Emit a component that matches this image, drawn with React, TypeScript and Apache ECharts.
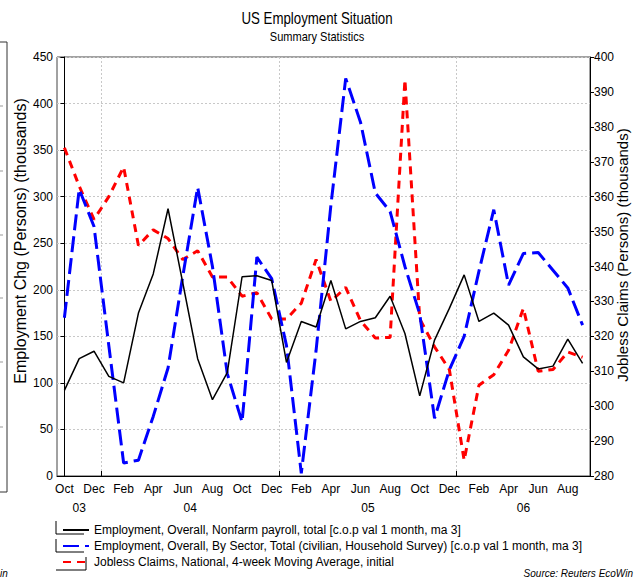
import React, { useEffect, useRef } from 'react';
import * as echarts from 'echarts';

const categories = [
  '2003-10', '2003-11', '2003-12',
  '2004-01', '2004-02', '2004-03', '2004-04', '2004-05', '2004-06', '2004-07', '2004-08', '2004-09', '2004-10', '2004-11', '2004-12',
  '2005-01', '2005-02', '2005-03', '2005-04', '2005-05', '2005-06', '2005-07', '2005-08', '2005-09', '2005-10', '2005-11', '2005-12',
  '2006-01', '2006-02', '2006-03', '2006-04', '2006-05', '2006-06', '2006-07', '2006-08', '2006-09',
];
const monthNames = ['Jan', 'Feb', 'Mar', 'Apr', 'May', 'Jun', 'Jul', 'Aug', 'Sep', 'Oct', 'Nov', 'Dec'];

const nonfarmPayroll = [
  92, 126, 134,
  107, 100, 175, 217, 287, 207, 126, 82, 111, 214, 215, 210,
  122, 166, 160, 210, 158, 166, 170, 193, 153, 86, 146, 180,
  216, 166, 175, 162, 128, 115, 118, 147, 121,
];
const householdSurvey = [
  170, 308, 268,
  140, 14, 17, 64, 116, 215, 310, 225, 110, 58, 235, 212,
  140, 3, 135, 291, 427, 380, 304, 284, 225, 174, 62, 114,
  150, 220, 286, 205, 239, 240, 221, 202, 162,
];
const joblessClaims = [
  374, 363, 353.5,
  360, 368.5, 346, 350.5, 348, 342, 344.5, 337, 337, 331.5, 332.5, 325,
  325, 329.5, 342, 330, 334, 324.5, 319.5, 319.7, 393.5, 325, 317, 310.5,
  284.5, 306, 309, 316, 328, 310, 310.5, 315.5, 314,
];

const seriesNames = [
  'Employment, Overall, Nonfarm payroll, total [c.o.p val 1 month, ma 3]',
  'Employment, Overall, By Sector, Total (civilian, Household Survey) [c.o.p val 1 month, ma 3]',
  'Jobless Claims, National, 4-week Moving Average, initial',
];
const axisTitles = ['Employment Chg (Persons) (thousands)', 'Jobless Claims (Persons) (thousands)'];

const leftAxisRange = { min: 0, max: 450, step: 50 };
const rightAxisRange = { min: 280, max: 400, step: 10 };

const FONT = "'Liberation Sans', Arial, sans-serif";

function yearCenters() {
  const map: Record<string, number[]> = {};
  categories.forEach((c, i) => {
    const y = c.slice(2, 4);
    (map[y] = map[y] || []).push(i);
  });
  return Object.keys(map).map((y) => ({ label: y, pos: (map[y][0] + map[y][map[y].length - 1]) / 2 }));
}

export default function App() {
  const ref = useRef<HTMLDivElement>(null);
  useEffect(() => {
    const chart = echarts.init(ref.current!, null, { renderer: 'svg' });
    const years = yearCenters();
    const isJan = (v: string) => v.slice(5) === '01';
    const option: any = {
      animation: false,
      backgroundColor: '#fff',
      grid: { left: 57, right: 44, top: 57, bottom: 102, show: true, borderColor: '#444', borderWidth: 1, outerBoundsMode: 'none', containLabel: false },
      legend: {
        orient: 'vertical', left: 57, top: 519, itemWidth: 26, itemHeight: 14, itemGap: 4,
        textStyle: { fontFamily: FONT, fontSize: 12, color: '#000' },
        itemStyle: { opacity: 0 },
        data: seriesNames,
      },
      xAxis: [
        {
          type: 'category', data: categories, position: 'bottom', boundaryGap: true,
          axisLine: { lineStyle: { color: '#000' } },
          axisTick: { inside: true, length: 4, alignWithLabel: true, interval: 1, lineStyle: { color: '#000' } },
          axisLabel: {
            interval: 1, margin: 7, color: '#000', fontFamily: FONT, fontSize: 12,
            formatter: (v: string) => monthNames[parseInt(v.slice(5), 10) - 1],
          },
          splitLine: { show: false },
        },
        {
          type: 'category', data: categories, position: 'bottom', boundaryGap: true,
          axisLine: { show: false },
          axisTick: { show: true, inside: true, length: 5, interval: (i: number, v: string) => isJan(v), lineStyle: { color: '#000' } },
          axisLabel: { show: false },
          splitLine: { show: true, interval: (i: number, v: string) => isJan(v), lineStyle: { color: '#c8c8c8', type: [2, 2] } },
        },
        {
          type: 'value', position: 'bottom', min: -0.5, max: categories.length - 0.5, interval: 0.5,
          axisLine: { show: false }, axisTick: { show: false }, splitLine: { show: false },
          axisLabel: {
            margin: 26, color: '#000', fontFamily: FONT, fontSize: 12, showMinLabel: true, showMaxLabel: true,
            formatter: (v: number) => {
              const y = years.find((t) => Math.abs(t.pos - v) < 0.01);
              return y ? y.label : '';
            },
          },
        },
      ],
      yAxis: [
        {
          type: 'value', min: leftAxisRange.min, max: leftAxisRange.max, interval: leftAxisRange.step, position: 'left',
          axisLine: { show: true, lineStyle: { color: '#000' } },
          axisTick: { show: true, length: 4, lineStyle: { color: '#000' } },
          axisLabel: { margin: 4, color: '#000', fontFamily: FONT, fontSize: 12 },
          splitLine: { show: true, lineStyle: { color: '#c8c8c8', type: [2, 2] } },
        },
        {
          type: 'value', min: rightAxisRange.min, max: rightAxisRange.max, interval: rightAxisRange.step, position: 'right',
          axisLine: { show: true, lineStyle: { color: '#000' } },
          axisTick: { show: true, length: 4, lineStyle: { color: '#000' } },
          axisLabel: { margin: 4, color: '#000', fontFamily: FONT, fontSize: 12 },
          splitLine: { show: false },
        },
      ],
      series: [
        {
          name: seriesNames[0], type: 'line', xAxisIndex: 0, yAxisIndex: 0, data: nonfarmPayroll, symbol: 'none',
          lineStyle: { color: '#000', width: 1.5 }, itemStyle: { color: '#000' }, z: 4,
        },
        {
          name: seriesNames[1], type: 'line', xAxisIndex: 0, yAxisIndex: 0, data: householdSurvey, symbol: 'none',
          lineStyle: { color: '#0000ff', width: 3, type: [16, 6] }, itemStyle: { color: '#0000ff' }, z: 3,
        },
        {
          name: seriesNames[2], type: 'line', xAxisIndex: 0, yAxisIndex: 1, data: joblessClaims, symbol: 'none',
          lineStyle: { color: '#ff0000', width: 3, type: [8, 6] }, itemStyle: { color: '#ff0000' }, z: 2,
        },
      ],
      graphic: [
        { type: 'text', x: 317, y: 19, scaleX: 0.83, style: { text: 'US Employment Situation', font: "16px 'Liberation Sans', Arial, sans-serif", fill: '#000', align: 'center', verticalAlign: 'middle' } },
        { type: 'text', x: 317, y: 37, scaleX: 0.85, style: { text: 'Summary Statistics', font: "13px 'Liberation Sans', Arial, sans-serif", fill: '#000', align: 'center', verticalAlign: 'middle' } },
        { type: 'text', x: 20, y: 241, rotation: Math.PI / 2, style: { text: axisTitles[0], font: "16px 'Liberation Sans', Arial, sans-serif", fill: '#000', align: 'center', verticalAlign: 'middle' } },
        { type: 'text', x: 622, y: 255, rotation: Math.PI / 2, style: { text: axisTitles[1], font: "15px 'Liberation Sans', Arial, sans-serif", fill: '#000', align: 'center', verticalAlign: 'middle' } },
        { type: 'rect', shape: { x: -10, y: 42, width: 17, height: 450 }, style: { fill: 'none', stroke: '#333', lineWidth: 1 } },
        ...[106, 171, 235, 298, 362, 427].map((y) => ({ type: 'line', shape: { x1: 0, y1: y, x2: 3, y2: y }, style: { stroke: '#999', lineWidth: 1 } })),
        { type: 'polyline', shape: { points: [[56, 521], [56, 534], [84, 534]] }, style: { stroke: '#000', fill: 'none', lineWidth: 1 } },
        { type: 'polyline', shape: { points: [[56, 539], [56, 552], [84, 552]] }, style: { stroke: '#000', fill: 'none', lineWidth: 1 } },
        { type: 'polyline', shape: { points: [[56, 570], [86, 570], [86, 557]] }, style: { stroke: '#000', fill: 'none', lineWidth: 1 } },
        { type: 'text', x: 633, y: 578, style: { text: 'Source: Reuters EcoWin', font: "italic 10px 'Liberation Sans', Arial, sans-serif", fill: '#000', align: 'right', verticalAlign: 'bottom' } },
        { type: 'text', x: 0, y: 578, style: { text: 'in', font: "italic 10px 'Liberation Sans', Arial, sans-serif", fill: '#000', align: 'left', verticalAlign: 'bottom' } },
      ],
    };
    chart.setOption(option);
    return () => chart.dispose();
  }, []);
  return <div ref={ref} style={{ width: 634, height: 578, position: 'absolute', left: 0, top: 0 }} />;
}
